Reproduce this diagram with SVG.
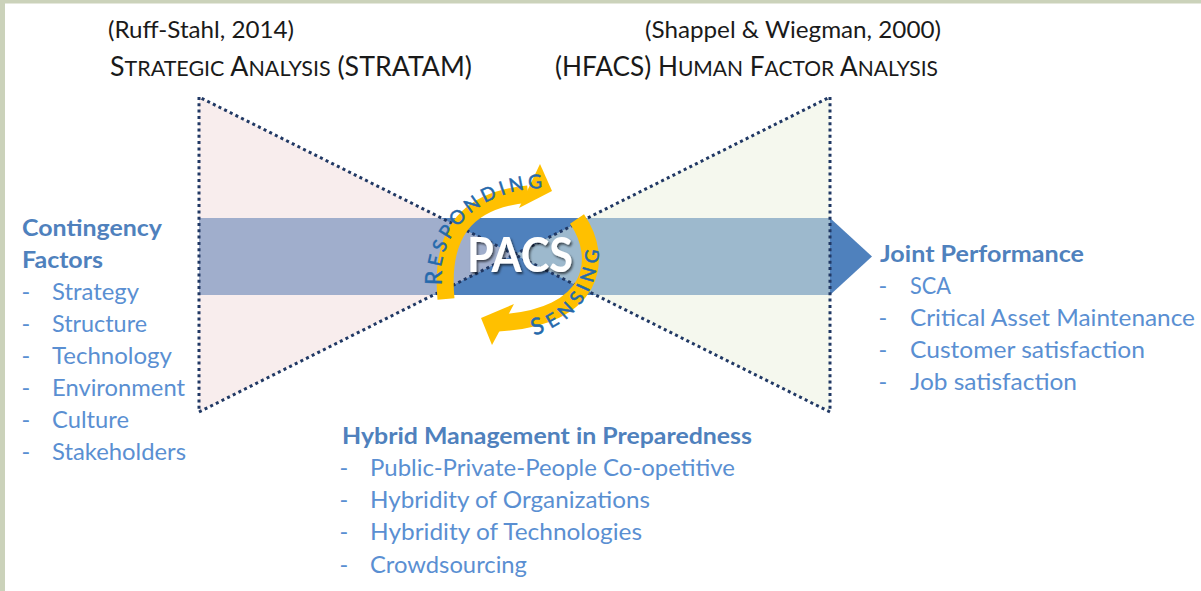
<svg xmlns="http://www.w3.org/2000/svg" width="1201" height="591" viewBox="0 0 1201 591">
<defs>
<style>
.t{font-family:Lato,"Open Sans","Liberation Sans",sans-serif}
.cite{font-size:23.3px;fill:#1a1a1a}
.ttl{font-size:27.2px;fill:#1a1a1a}
.sc{font-size:21.8px}
.hd{font-size:23.5px;font-weight:bold;fill:#4f81bd}
.it{font-size:23.5px;fill:#5a8fd2}
.dot{fill:none;stroke:#203864;stroke-width:3;stroke-dasharray:3 3.3}
.band{fill:none;stroke:#ffc000;stroke-width:17}
.head{fill:#ffc000}
.ring{font-family:Lato,"Open Sans","Liberation Sans",sans-serif;font-size:19px;fill:#2569ac;stroke:#2569ac;stroke-width:0.5}
.big{font-size:23px}
.pacs{font-family:Lato,"Liberation Sans",sans-serif;font-weight:bold;font-size:48px;fill:#fff}
</style>
<filter id="sh" x="-20%" y="-30%" width="140%" height="160%">
<feDropShadow dx="1.5" dy="2" stdDeviation="1.3" flood-color="#000" flood-opacity="0.6"/>
</filter>
<path id="pR" d="M433,285 C428,236 468,180 547,180"/>
<path id="pS" d="M531,327 C562,319 591,296 592,238"/>
</defs>
<rect width="1201" height="591" fill="#fff"/>
<rect x="0" y="0" width="1201" height="3.5" fill="#cbd2ba"/>
<rect x="0" y="0" width="5" height="591" fill="#cbd2ba"/>

<g id="connectors">
<path id="main-arrow" d="M199,218 H830 L872,256.5 L830,295 H199 Z" fill="#4f81bd"/>
</g>

<g id="stratam-triangle">
<polygon points="199,97 199,412 514.5,254.5" fill="#f2dcdb" fill-opacity="0.5"/>
<polygon class="dot" points="199,97 199,412 514.5,254.5"/>
</g>
<g id="hfacs-triangle">
<polygon points="830,97 830,412 514.5,254.5" fill="#ebf1de" fill-opacity="0.5"/>
<polygon class="dot" points="830,97 830,412 514.5,254.5"/>
</g>

<g id="cycle">
<path class="band" d="M446,299 C440,235 465,200 528,194"/>
<polygon class="head" points="519,208 540,164 552,191"/>
<path class="band" d="M577,219 C604,258 596,318 498,323"/>
<polygon class="head" points="514,304 481,318 492,345"/>
<text class="ring" dominant-baseline="central"><textPath href="#pR" letter-spacing="5"><tspan class="big">R</tspan>ESPONDING</textPath></text>
<text class="ring" dominant-baseline="central"><textPath href="#pS" letter-spacing="4"><tspan class="big">S</tspan>ENSING</textPath></text>
</g>

<g id="pacs">
<text class="pacs" x="520" y="272" text-anchor="middle" textLength="106" lengthAdjust="spacingAndGlyphs" filter="url(#sh)">PACS</text>
</g>

<g id="stratam-title">
<text class="t cite" x="108" y="38" textLength="186" lengthAdjust="spacingAndGlyphs">(Ruff-Stahl, 2014)</text>
<text class="t ttl" x="110" y="76" textLength="362" lengthAdjust="spacingAndGlyphs">S<tspan class="sc">TRATEGIC</tspan> A<tspan class="sc">NALYSIS</tspan> (STRATAM)</text>
</g>

<g id="hfacs-title">
<text class="t cite" x="941" y="38" text-anchor="end" textLength="296" lengthAdjust="spacingAndGlyphs">(Shappel &amp; Wiegman, 2000)</text>
<text class="t ttl" x="938" y="76" text-anchor="end" textLength="383" lengthAdjust="spacingAndGlyphs">(HFACS) H<tspan class="sc">UMAN</tspan> F<tspan class="sc">ACTOR</tspan> A<tspan class="sc">NALYSIS</tspan></text>
</g>

<g id="contingency-factors">
<text class="t hd" x="22" y="236" textLength="140" lengthAdjust="spacingAndGlyphs">Contingency</text>
<text class="t hd" x="22" y="268" textLength="81" lengthAdjust="spacingAndGlyphs">Factors</text>
<text class="t it" x="21.5" y="300">-</text><text class="t it" x="52" y="300" textLength="87" lengthAdjust="spacingAndGlyphs">Strategy</text>
<text class="t it" x="21.5" y="332">-</text><text class="t it" x="52" y="332" textLength="95" lengthAdjust="spacingAndGlyphs">Structure</text>
<text class="t it" x="21.5" y="364">-</text><text class="t it" x="52" y="364" textLength="120" lengthAdjust="spacingAndGlyphs">Technology</text>
<text class="t it" x="21.5" y="396">-</text><text class="t it" x="52" y="396" textLength="133" lengthAdjust="spacingAndGlyphs">Environment</text>
<text class="t it" x="21.5" y="428">-</text><text class="t it" x="52" y="428" textLength="77" lengthAdjust="spacingAndGlyphs">Culture</text>
<text class="t it" x="21.5" y="460">-</text><text class="t it" x="52" y="460" textLength="134" lengthAdjust="spacingAndGlyphs">Stakeholders</text>
</g>

<g id="joint-performance">
<text class="t hd" x="880" y="261.5" textLength="204" lengthAdjust="spacingAndGlyphs">Joint Performance</text>
<text class="t it" x="878.5" y="293.5">-</text><text class="t it" x="910" y="293.5" textLength="41" lengthAdjust="spacingAndGlyphs">SCA</text>
<text class="t it" x="878.5" y="325.5">-</text><text class="t it" x="910" y="325.5" textLength="285" lengthAdjust="spacingAndGlyphs">Critical Asset Maintenance</text>
<text class="t it" x="878.5" y="357.5">-</text><text class="t it" x="910" y="357.5" textLength="235" lengthAdjust="spacingAndGlyphs">Customer satisfaction</text>
<text class="t it" x="878.5" y="389.5">-</text><text class="t it" x="910" y="389.5" textLength="167" lengthAdjust="spacingAndGlyphs">Job satisfaction</text>
</g>

<g id="hybrid-management">
<text class="t hd" x="342" y="444" textLength="410" lengthAdjust="spacingAndGlyphs">Hybrid Management in Preparedness</text>
<text class="t it" x="339.5" y="475.5">-</text><text class="t it" x="370" y="475.5" textLength="365" lengthAdjust="spacingAndGlyphs">Public-Private-People Co-opetitive</text>
<text class="t it" x="339.5" y="508">-</text><text class="t it" x="370" y="508" textLength="280" lengthAdjust="spacingAndGlyphs">Hybridity of Organizations</text>
<text class="t it" x="339.5" y="540">-</text><text class="t it" x="370" y="540" textLength="272" lengthAdjust="spacingAndGlyphs">Hybridity of Technologies</text>
<text class="t it" x="339.5" y="572.5">-</text><text class="t it" x="370" y="572.5" textLength="157" lengthAdjust="spacingAndGlyphs">Crowdsourcing</text>
</g>
</svg>
